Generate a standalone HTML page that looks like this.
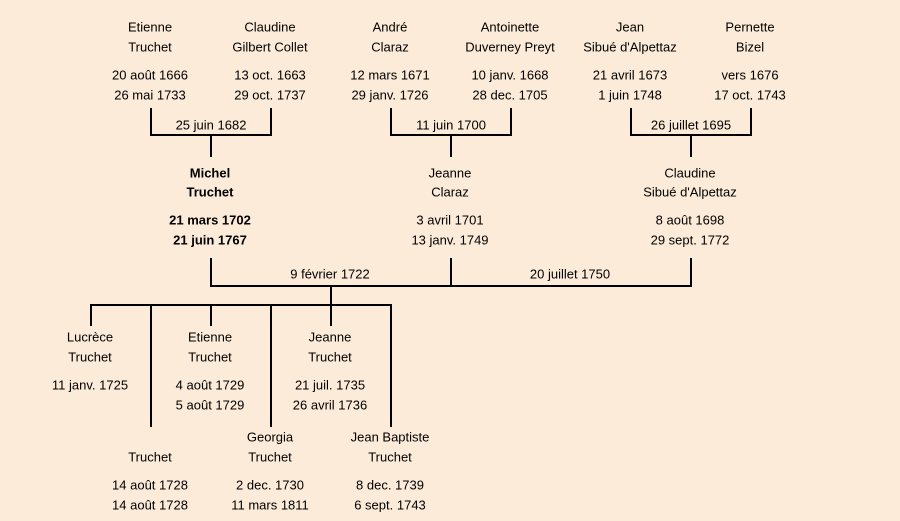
<!DOCTYPE html>
<html><head><meta charset="utf-8"><style>
html,body{margin:0;padding:0;background:#fcebd8;}
svg{display:block}
text{font-family:"Liberation Sans","DejaVu Sans",sans-serif;font-size:13px;fill:#000;text-anchor:middle;dominant-baseline:middle}
.b{font-weight:bold}
</style></head><body>
<svg width="900" height="521" viewBox="0 0 900 521" xmlns="http://www.w3.org/2000/svg">
<rect width="900" height="521" fill="#fcebd8"/>
<g stroke="#000" stroke-width="2" fill="none">
<path d="M151 108V135H271V108M211 135V157"/>
<path d="M391 108V135H511V108M451 135V157"/>
<path d="M631 108V135H751V108M691 135V157"/>
<path d="M211 258V286M451 258V286M691 258V286M210 286H692M331 286V305M90 305H392"/>
<path d="M91 305V326M211 305V326M331 305V326M151 305V427M271 305V427M391 305V427"/>
</g>
<g transform="translate(0,1)">
<text x="150" y="27">Etienne</text><text x="150" y="47">Truchet</text><text x="150" y="75">20 août 1666</text><text x="150" y="95">26 mai 1733</text>
<text x="270" y="27">Claudine</text><text x="270" y="47">Gilbert Collet</text><text x="270" y="75">13 oct. 1663</text><text x="270" y="95">29 oct. 1737</text>
<text x="390" y="27">André</text><text x="390" y="47">Claraz</text><text x="390" y="75">12 mars 1671</text><text x="390" y="95">29 janv. 1726</text>
<text x="510" y="27">Antoinette</text><text x="510" y="47">Duverney Preyt</text><text x="510" y="75">10 janv. 1668</text><text x="510" y="95">28 dec. 1705</text>
<text x="630" y="27">Jean</text><text x="630" y="47">Sibué d'Alpettaz</text><text x="630" y="75">21 avril 1673</text><text x="630" y="95">1 juin 1748</text>
<text x="750" y="27">Pernette</text><text x="750" y="47">Bizel</text><text x="750" y="75">vers 1676</text><text x="750" y="95">17 oct. 1743</text>
<text x="211" y="125">25 juin 1682</text><text x="451" y="125">11 juin 1700</text><text x="691" y="125">26 juillet 1695</text>
<text class="b" x="210" y="173">Michel</text><text class="b" x="210" y="192">Truchet</text><text class="b" x="210" y="220">21 mars 1702</text><text class="b" x="210" y="240">21 juin 1767</text>
<text x="450" y="173">Jeanne</text><text x="450" y="192">Claraz</text><text x="450" y="220">3 avril 1701</text><text x="450" y="240">13 janv. 1749</text>
<text x="690" y="173">Claudine</text><text x="690" y="192">Sibué d'Alpettaz</text><text x="690" y="220">8 août 1698</text><text x="690" y="240">29 sept. 1772</text>
<text x="330" y="274">9 février 1722</text><text x="570" y="274">20 juillet 1750</text>
<text x="90" y="337">Lucrèce</text><text x="90" y="357">Truchet</text><text x="90" y="385">11 janv. 1725</text>
<text x="210" y="337">Etienne</text><text x="210" y="357">Truchet</text><text x="210" y="385">4 août 1729</text><text x="210" y="405">5 août 1729</text>
<text x="330" y="337">Jeanne</text><text x="330" y="357">Truchet</text><text x="330" y="385">21 juil. 1735</text><text x="330" y="405">26 avril 1736</text>
<text x="150" y="457">Truchet</text><text x="150" y="485">14 août 1728</text><text x="150" y="505">14 août 1728</text>
<text x="270" y="437">Georgia</text><text x="270" y="457">Truchet</text><text x="270" y="485">2 dec. 1730</text><text x="270" y="505">11 mars 1811</text>
<text x="390" y="437">Jean Baptiste</text><text x="390" y="457">Truchet</text><text x="390" y="485">8 dec. 1739</text><text x="390" y="505">6 sept. 1743</text>
</g>
</svg>
</body></html>
